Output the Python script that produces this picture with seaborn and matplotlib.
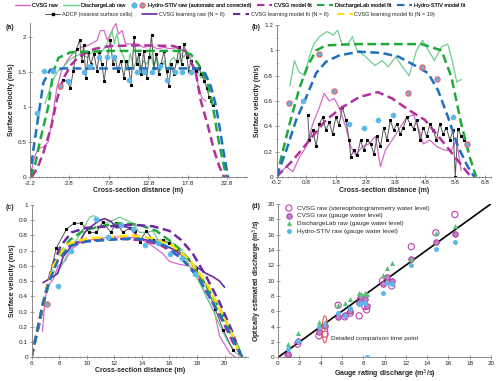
import numpy as np
import pandas as pd
import seaborn as sns
import matplotlib
matplotlib.use("Agg")
import matplotlib.pyplot as plt
from matplotlib.lines import Line2D
from matplotlib.patches import Ellipse
from matplotlib.legend_handler import HandlerTuple
from matplotlib.ticker import MultipleLocator

sns.set_style("ticks")
plt.rcParams['font.family'] = ['Liberation Sans', 'DejaVu Sans']

# ---------------- panel (a) ----------------
a_cvsg_x = [-2.2, -1.6, -1.1, -0.5, 0.1, 0.5, 1.2, 1.8, 2.5, 3.3, 4.2, 5.2, 6.3, 6.7, 7.2, 7.6, 8.0, 8.4, 8.7,
            9.0, 9.5, 9.9, 10.5, 11.4, 12.2, 13.1, 13.9, 14.8, 15.6, 16.5, 17.3, 17.9, 18.4, 18.8, 19.2, 19.6, 20.1]
a_cvsg_y = [0.0, 0.30, 0.41, 0.43, 0.50, 0.75, 1.27, 1.52, 1.66, 1.78, 1.85, 1.88, 1.95, 2.09, 2.09, 1.95, 2.04, 2.14, 2.19,
            2.04, 2.09, 1.90, 1.90, 1.90, 1.85, 1.88, 1.83, 1.85, 1.83, 1.85, 1.80, 1.76, 1.61, 1.47, 1.27, 1.13, 1.08]
a_dlab_x = [-0.3, 0.1, 0.6, 1.0, 1.4, 2.0, 2.7, 3.3, 4.2, 5.0, 5.9, 6.7, 7.3, 7.8, 8.2, 8.5, 8.8, 9.3, 9.7, 10.1,
            10.5, 11.0, 11.4, 11.8, 12.2, 12.6, 13.1, 13.5, 13.9, 14.3, 14.8, 15.2, 15.6, 16.0, 16.5, 16.9, 17.3,
            17.7, 18.2, 18.6, 19.0, 19.4, 19.9]
a_dlab_y = [1.05, 1.18, 1.37, 1.44, 1.52, 1.56, 1.66, 1.71, 1.76, 1.71, 1.80, 1.76, 1.85, 1.95, 2.09, 1.90, 2.04, 1.80,
            1.71, 1.52, 1.76, 1.56, 1.71, 1.52, 1.66, 1.61, 1.76, 1.56, 1.71, 1.52, 1.66, 1.47, 1.66, 1.71, 1.61,
            1.76, 1.71, 1.80, 1.66, 1.56, 1.52, 1.42, 1.42]
a_adcp_x = [2.0, 2.5, 2.9, 3.3, 3.7, 4.1, 4.4, 4.6, 4.9, 5.2, 5.5, 5.9, 6.3, 6.6, 6.9, 7.2, 7.6, 8.0, 8.3, 8.6, 8.9,
            9.3, 9.7, 10.0, 10.3, 10.6, 11.0, 11.3, 11.6, 11.9, 12.2, 12.6, 12.9, 13.2, 13.5, 13.8, 14.1, 14.4,
            14.8, 15.1, 15.4, 15.7, 16.0, 16.4, 16.7, 17.0, 17.3, 17.7, 17.9, 18.2, 18.6, 18.9, 19.2, 19.5, 19.9,
            20.2, 20.5, 20.8, 21.0]
a_adcp_y = [1.39, 1.37, 1.27, 1.52, 1.83, 1.95, 1.66, 1.88, 1.42, 1.78, 1.61, 1.76, 1.52, 1.78, 1.61, 1.37, 1.71,
            1.95, 1.61, 1.71, 1.52, 1.66, 1.42, 1.66, 1.56, 1.32, 2.00, 1.61, 1.76, 1.47, 1.80, 1.42, 1.71, 2.02,
            1.56, 1.76, 1.47, 1.61, 1.80, 1.52, 1.30, 1.61, 1.47, 1.66, 1.85, 1.61, 1.90, 1.71, 1.52, 1.66, 1.56,
            1.52, 1.56, 1.47, 1.37, 1.27, 1.15, 1.08, 1.03]
a_stiv_x = [-1.35, -0.38, 0.77, 2.67, 4.58, 5.43, 6.49, 7.56, 8.4, 10.3, 11.4, 12.2, 13.3, 14.3, 15.2, 16.2, 17.1, 18.2]
a_stiv_y = [0.92, 1.51, 1.51, 1.37, 1.50, 1.59, 1.71, 1.71, 1.71, 1.39, 1.50, 1.50, 1.50, 1.59, 1.38, 1.50, 1.50, 1.50]
a_stivc_x = [1.62]
a_stivc_y = [1.30]
a_fcvsg_x = [-2.0, -1.3, -0.5, 0.5, 1.2, 2.0, 3.0, 4.0, 6.0, 8.0, 12.0, 16.0, 17.5, 18.8, 19.4, 20.3, 21.1, 21.8, 22.4]
a_fcvsg_y = [0.0, 0.12, 0.35, 0.72, 1.10, 1.40, 1.60, 1.72, 1.83, 1.87, 1.88, 1.87, 1.80, 1.50, 1.11, 0.75, 0.39, 0.15, 0.0]
a_fdlab_x = [-2.2, -1.6, -0.9, 0.1, 0.75, 1.4, 2.9, 8.0, 14.0, 16.9, 18.2, 19.2, 20.3, 21.0, 21.6, 22.2, 22.7]
a_fdlab_y = [0.0, 0.15, 0.53, 1.00, 1.50, 1.70, 1.78, 1.80, 1.80, 1.80, 1.75, 1.60, 1.35, 1.00, 0.58, 0.25, 0.0]
a_fstiv_x = [-2.2, -1.78, -1.14, -0.5, 0.35, 2.0, 10.0, 19.0, 20.0, 20.7, 21.3, 21.8, 22.3, 22.9]
a_fstiv_y = [0.0, 0.39, 0.87, 1.35, 1.53, 1.55, 1.55, 1.55, 1.48, 1.30, 1.05, 0.73, 0.38, 0.0]

# ---------------- panel (b) ----------------
b_cvsg_x = [-0.2, 0.13, 0.35, 0.58, 0.8, 1.02, 1.24, 1.4, 1.57, 1.74, 1.9, 2.13, 2.29, 2.46, 2.68, 2.9, 3.12, 3.29,
            3.45, 3.68, 3.95, 4.17, 4.4, 4.56, 4.73, 4.95, 5.17, 5.45, 5.67, 5.84, 6.0]
b_cvsg_y = [0.0, 0.08, 0.04, 0.16, 0.24, 0.42, 0.55, 0.66, 0.60, 0.62, 0.55, 0.39, 0.24, 0.17, 0.24, 0.26, 0.32, 0.08,
            0.21, 0.29, 0.39, 0.47, 0.49, 0.39, 0.26, 0.29, 0.24, 0.21, 0.21, 0.29, 0.05]
b_dlab_x = [0.25, 0.4, 0.55, 0.75, 0.9, 1.05, 1.25, 1.5, 1.7, 1.85, 2.0, 2.2, 2.35, 2.5, 2.75, 3.1, 3.35, 3.55, 3.8,
            4.0, 4.25, 4.5, 4.7, 4.9, 5.1, 5.35, 5.55, 5.7, 5.85, 6.0]
b_dlab_y = [0.72, 0.92, 0.83, 0.80, 0.95, 1.05, 1.11, 1.15, 1.12, 1.16, 1.05, 1.05, 1.11, 1.00, 0.96, 0.88, 0.92, 0.87,
            0.95, 0.88, 0.80, 1.00, 1.08, 1.00, 0.92, 1.03, 1.05, 0.92, 0.75, 0.77]
b_adcp_x = [0.85, 0.9, 1.02, 1.13, 1.24, 1.35, 1.46, 1.57, 1.68, 1.79, 1.9, 2.01, 2.13, 2.24, 2.29, 2.4, 2.51, 2.62,
            2.73, 2.85, 2.96, 3.07, 3.18, 3.29, 3.4, 3.51, 3.62, 3.73, 3.84, 3.95, 4.06, 4.17, 4.29, 4.4, 4.5, 4.62,
            4.73, 4.84, 4.95, 5.06, 5.17, 5.28, 5.39, 5.5, 5.62, 5.73, 5.8, 5.89, 6.0, 6.11, 6.22]
b_adcp_y = [0.49, 0.29, 0.37, 0.24, 0.42, 0.47, 0.37, 0.43, 0.34, 0.47, 0.41, 0.55, 0.45, 0.29, 0.16, 0.21, 0.17,
            0.29, 0.21, 0.29, 0.26, 0.18, 0.32, 0.24, 0.39, 0.29, 0.45, 0.37, 0.42, 0.34, 0.39, 0.47, 0.42, 0.38,
            0.45, 0.29, 0.39, 0.32, 0.42, 0.37, 0.29, 0.42, 0.34, 0.39, 0.29, 0.37, 0.0, 0.38, 0.32, 0.29, 0.26]
b_stiv_x = [0.69, 2.24, 2.73, 3.21, 3.70, 5.72]
b_stiv_y = [0.60, 0.42, 0.39, 0.45, 0.49, 0.47]
b_stivc_x = [0.22, 1.22, 1.72, 4.20, 4.70, 5.19, 6.19]
b_stivc_y = [0.58, 0.97, 0.68, 0.66, 0.87, 0.77, 0.26]
b_fcvsg_x = [-0.2, 0.35, 0.91, 1.46, 2.01, 2.57, 3.2, 3.68, 4.23, 4.78, 5.34, 5.78, 6.22, 6.35]
b_fcvsg_y = [0.0, 0.13, 0.29, 0.45, 0.55, 0.63, 0.67, 0.62, 0.53, 0.45, 0.29, 0.16, 0.03, 0.0]
b_fdlab_x = [-0.2, 0.24, 0.58, 0.85, 1.13, 1.46, 2.5, 3.5, 4.67, 5.34, 5.67, 6.0, 6.28, 6.5]
b_fdlab_y = [0.0, 0.42, 0.71, 0.88, 1.00, 1.04, 1.05, 1.05, 1.05, 1.00, 0.79, 0.42, 0.16, 0.0]
b_fstiv_x = [-0.2, 0.13, 0.46, 0.8, 1.13, 1.46, 1.9, 2.57, 3.34, 3.9, 4.45, 4.89, 5.23, 5.56, 5.89, 6.22, 6.44]
b_fstiv_y = [0.0, 0.21, 0.45, 0.63, 0.82, 0.91, 0.96, 0.99, 0.98, 0.95, 0.88, 0.82, 0.68, 0.47, 0.24, 0.08, 0.0]

# ---------------- panel (c) ----------------
c_cvsg_x = [6.8, 6.97, 7.2, 7.57, 7.93, 8.41, 8.9, 9.5, 10.2, 10.95, 11.9, 12.88, 13.84, 14.45, 14.93, 15.53, 16.0,
            16.74, 17.46, 17.95, 18.3, 18.67, 18.96, 19.27, 19.64, 20.36, 20.8, 21.4]
c_cvsg_y = [0.17, 0.38, 0.47, 0.51, 0.60, 0.63, 0.71, 0.75, 0.77, 0.78, 0.79, 0.79, 0.78, 0.75, 0.72, 0.68, 0.63, 0.61,
            0.60, 0.55, 0.49, 0.40, 0.35, 0.30, 0.14, 0.03, 0.0, 0.0]
c_dlab_x = [7.45, 7.81, 8.17, 8.53, 9.26, 9.74, 10.22, 10.54, 10.95, 11.43, 11.91, 12.4, 12.88, 13.36, 13.84, 14.33,
            14.81, 15.3, 15.77, 16.26, 16.86, 17.46, 17.95, 18.4, 19.0, 19.6, 20.2, 20.8, 21.3]
c_dlab_y = [0.58, 0.55, 0.60, 0.66, 0.77, 0.84, 0.92, 0.93, 0.90, 0.88, 0.90, 0.92, 0.90, 0.88, 0.82, 0.82, 0.83, 0.75,
            0.75, 0.75, 0.71, 0.60, 0.53, 0.45, 0.34, 0.22, 0.11, 0.03, 0.0]
c_adcp_x = [7.33, 7.81, 8.53, 9.07, 9.62, 10.18, 10.7, 11.19, 11.74, 12.15, 12.64, 13.12, 13.48, 13.84, 14.33, 14.81,
            15.53, 16.0, 16.5, 17.2, 17.9, 18.7, 19.3, 19.9, 20.6]
c_adcp_y = [0.54, 0.72, 0.84, 0.88, 0.88, 0.82, 0.82, 0.89, 0.82, 0.88, 0.82, 0.85, 0.83, 0.76, 0.83, 0.77, 0.77, 0.75,
            0.71, 0.66, 0.58, 0.47, 0.32, 0.18, 0.05]
c_lraw_x = [6.84, 7.2, 7.57, 7.9, 8.29, 8.65, 9.02, 9.5, 9.86, 10.34, 10.95, 11.3, 11.79, 12.15, 12.64, 13.12, 13.84,
            14.33, 14.81, 15.3, 15.77, 16.26, 16.74, 17.22, 17.7, 18.19, 18.67, 19.15, 19.64, 20.0]
c_lraw_y = [0.49, 0.51, 0.53, 0.55, 0.66, 0.70, 0.75, 0.76, 0.82, 0.86, 0.90, 0.91, 0.89, 0.85, 0.86, 0.85, 0.78, 0.77,
            0.76, 0.74, 0.73, 0.71, 0.68, 0.66, 0.61, 0.58, 0.55, 0.53, 0.50, 0.46]
c_stiv_x = [7.93, 8.9, 10.66, 11.55, 12.52, 13.36, 14.25, 15.17, 16.07, 16.93, 17.88]
c_stiv_y = [0.47, 0.70, 0.91, 0.79, 0.87, 0.84, 0.74, 0.75, 0.68, 0.65, 0.55]
c_stivc_x = [7.09]
c_stivc_y = [0.35]
c_fcvsg_x = [6.0, 6.6, 7.09, 7.57, 8.29, 9.26, 10.47, 12.15, 13.84, 15.3, 16.74, 17.95, 18.9, 19.9, 20.6, 21.3]
c_fcvsg_y = [0.0, 0.23, 0.45, 0.60, 0.71, 0.75, 0.77, 0.78, 0.77, 0.74, 0.66, 0.55, 0.40, 0.23, 0.10, 0.0]
c_fdlab_x = [6.0, 6.84, 7.45, 8.05, 8.78, 9.74, 10.95, 12.4, 13.84, 15.05, 16.26, 17.46, 18.67, 19.64, 20.6, 21.3]
c_fdlab_y = [0.0, 0.34, 0.55, 0.68, 0.77, 0.83, 0.86, 0.88, 0.87, 0.83, 0.75, 0.64, 0.47, 0.32, 0.14, 0.0]
c_fstiv_x = [6.0, 6.84, 7.33, 7.93, 8.78, 9.98, 11.43, 13.36, 14.57, 15.77, 16.98, 18.19, 19.15, 20.1, 20.84, 21.3]
c_fstiv_y = [0.0, 0.36, 0.51, 0.64, 0.73, 0.76, 0.77, 0.78, 0.77, 0.73, 0.64, 0.51, 0.36, 0.21, 0.08, 0.0]
c_fl8_x = [6.0, 6.84, 7.45, 8.1, 8.9, 9.98, 11.67, 13.36, 14.81, 16.0, 16.86, 17.7, 18.67, 19.64, 20.6, 21.2]
c_fl8_y = [0.0, 0.36, 0.58, 0.73, 0.82, 0.85, 0.86, 0.87, 0.86, 0.83, 0.77, 0.68, 0.53, 0.36, 0.16, 0.0]
c_fl19_x = [6.0, 6.84, 7.57, 8.53, 9.98, 11.67, 13.36, 14.81, 16.26, 17.46, 18.67, 19.64, 20.6, 21.2]
c_fl19_y = [0.0, 0.36, 0.60, 0.74, 0.78, 0.79, 0.80, 0.78, 0.73, 0.64, 0.49, 0.32, 0.14, 0.0]

# ---------------- panel (d) ----------------
d_gauge = [0.94, 1.85, 3.84, 4.42, 5.65, 6.28, 6.78, 7.62, 7.76, 8.16, 8.32, 9.82, 10.2, 10.68, 12.52, 14.82, 16.61]
d_cvsg_stereo = [0.2, 1.73, 2.81, 3.03, 6.80, 5.28, 5.76, 5.41, 7.60, 6.62, 6.19, 9.96, 9.91, 9.31, 14.42, 16.23, 18.61]
d_cvsg_gauge = [0.43, 2.16, 3.25, 4.11, 5.28, 5.50, 6.06, 7.06, 7.80, 7.58, 6.71, 9.52, 10.52, 9.96, 12.77, 15.02, 16.10]
d_dlab_gauge = [1.73, 3.12, 4.55, 4.55, 6.80, 7.14, 7.58, 8.35, 8.30, 8.35, 8.20, 10.69, 11.65, 12.25, 12.77, 16.23, 17.10]
d_stiv_gauge = [1.08, 2.16, 3.90, 4.33, 5.84, 5.41, 6.49, 6.93, 7.10, 7.14, 0.0, 8.44, 9.74, 9.52, 11.99, 14.07, 15.02]

PINK = '#D46BC9'
LGREEN = '#6FCF8E'
LBLUE = '#5DB8EA'
REDEDGE = '#F06464'
MAG = '#B0309C'
GREEN = '#1FAA3A'
BLUE = '#1F6FC0'
PURPLE = '#6A2AA0'
YELLOW = '#FFE400'
DASH = (0, (3.5, 1.8))


def raw(ax, x, y, color, lw=0.9):
    sns.lineplot(x=x, y=y, ax=ax, color=color, lw=lw, sort=False, estimator=None)


def fit(ax, x, y, color, lw=1.8):
    sns.lineplot(x=x, y=y, ax=ax, color=color, lw=lw, linestyle=DASH, sort=False, estimator=None)


def adcp(ax, x, y):
    sns.lineplot(x=x, y=y, ax=ax, color='#555555', lw=0.7, marker='s', markersize=1.8,
                 markerfacecolor='black', markeredgecolor='black', sort=False, estimator=None)


def stiv(ax, x, y, xc, yc):
    sns.scatterplot(x=x, y=y, ax=ax, color=LBLUE, s=14, edgecolor=LBLUE, linewidth=0.3, zorder=5)
    sns.scatterplot(x=xc, y=yc, ax=ax, color=LBLUE, s=14, edgecolor=REDEDGE, linewidth=0.9, zorder=5)


def style(ax, xlabel, ylabel):
    for s in ['top', 'right']:
        ax.spines[s].set_visible(False)
    for s in ['left', 'bottom']:
        ax.spines[s].set_color('#888888')
        ax.spines[s].set_linewidth(0.7)
    ax.tick_params(which='major', labelsize=4.6, length=3, width=0.6, color='#888888', direction='inout', pad=1)
    ax.tick_params(which='minor', length=1.6, width=0.5, color='#888888', direction='inout')
    ax.set_xlabel(xlabel, fontsize=5, fontweight='bold', labelpad=1)
    ax.set_ylabel(ylabel, fontsize=5, fontweight='bold', labelpad=2)


fig = plt.figure(figsize=(5.0, 3.81), dpi=100)
ax_a = fig.add_axes([0.060, 0.535, 0.434, 0.405])
ax_b = fig.add_axes([0.553, 0.536, 0.429, 0.398])
ax_c = fig.add_axes([0.063, 0.062, 0.433, 0.400])
ax_d = fig.add_axes([0.556, 0.062, 0.426, 0.403])

# (a)
raw(ax_a, a_cvsg_x, a_cvsg_y, PINK)
raw(ax_a, a_dlab_x, a_dlab_y, LGREEN)
adcp(ax_a, a_adcp_x, a_adcp_y)
fit(ax_a, a_fcvsg_x, a_fcvsg_y, MAG)
fit(ax_a, a_fdlab_x, a_fdlab_y, GREEN)
fit(ax_a, a_fstiv_x, a_fstiv_y, BLUE)
stiv(ax_a, a_stiv_x, a_stiv_y, a_stivc_x, a_stivc_y)
ax_a.set_xlim(-2.2, 25.3)
ax_a.set_ylim(0, 2.2)
ax_a.set_xticks([-2.2, 2.8, 7.8, 12.8, 17.8, 22.8])
ax_a.set_xticklabels(['-2.2', '2.8', '7.8', '12.8', '17.8', '22.8'])
ax_a.set_yticks([0, 0.5, 1, 1.5, 2])
ax_a.set_yticklabels(['0', '0.5', '1', '1.5', '2'])
ax_a.xaxis.set_minor_locator(MultipleLocator(1))
style(ax_a, 'Cross-section distance (m)', 'Surface velocity (m/s)')

# (b)
raw(ax_b, b_cvsg_x, b_cvsg_y, PINK)
raw(ax_b, b_dlab_x, b_dlab_y, LGREEN)
adcp(ax_b, b_adcp_x, b_adcp_y)
fit(ax_b, b_fcvsg_x, b_fcvsg_y, MAG)
fit(ax_b, b_fdlab_x, b_fdlab_y, GREEN)
fit(ax_b, b_fstiv_x, b_fstiv_y, BLUE)
stiv(ax_b, b_stiv_x, b_stiv_y, b_stivc_x, b_stivc_y)
ax_b.set_xlim(-0.2, 7.0)
ax_b.set_ylim(0, 1.2)
ax_b.set_xticks([-0.2, 0.8, 1.8, 2.8, 3.8, 4.8, 5.8, 6.8])
ax_b.set_xticklabels(['-0.2', '0.8', '1.8', '2.8', '3.8', '4.8', '5.8', '6.8'])
ax_b.set_yticks([0, 0.2, 0.4, 0.6, 0.8, 1.0, 1.2])
ax_b.set_yticklabels(['0', '0.2', '0.4', '0.6', '0.8', '1', '1.2'])
ax_b.xaxis.set_minor_locator(MultipleLocator(0.2))
ax_b.yaxis.set_minor_locator(MultipleLocator(0.1))
style(ax_b, 'Cross-section distance (m)', 'Surface velocity (m/s)')

# (c)
raw(ax_c, c_cvsg_x, c_cvsg_y, PINK)
raw(ax_c, c_dlab_x, c_dlab_y, LGREEN)
adcp(ax_c, c_adcp_x, c_adcp_y)
raw(ax_c, c_lraw_x, c_lraw_y, PURPLE, lw=1.2)
fit(ax_c, c_fcvsg_x, c_fcvsg_y, MAG)
fit(ax_c, c_fdlab_x, c_fdlab_y, GREEN)
fit(ax_c, c_fl8_x, c_fl8_y, PURPLE)
fit(ax_c, c_fl19_x, c_fl19_y, YELLOW)
fit(ax_c, c_fstiv_x, c_fstiv_y, BLUE)
stiv(ax_c, c_stiv_x, c_stiv_y, c_stivc_x, c_stivc_y)
ax_c.set_xlim(6, 21.7)
ax_c.set_ylim(0, 1)
ax_c.set_xticks(range(6, 21, 2))
ax_c.set_yticks([0, 0.1, 0.2, 0.3, 0.4, 0.5, 0.6, 0.7, 0.8, 0.9, 1])
ax_c.set_yticklabels(['0', '0.1', '0.2', '0.3', '0.4', '0.5', '0.6', '0.7', '0.8', '0.9', '1'])
ax_c.xaxis.set_minor_locator(MultipleLocator(0.5))
style(ax_c, 'Cross-section distance (m)', 'Surface velocity (m/s)')

# (d)
sns.lineplot(x=[0, 20], y=[0, 20], ax=ax_d, color='black', lw=1.2)
sns.scatterplot(x=d_gauge, y=d_cvsg_stereo, ax=ax_d, facecolor='none', edgecolor='#C23FB5', s=20, linewidth=0.8,
                label='CVSG raw (stereophotogrammetry water level)', zorder=4)
sns.scatterplot(x=d_gauge, y=d_cvsg_gauge, ax=ax_d, color='#C27FCB', edgecolor='#A23496', s=16, linewidth=0.6,
                label='CVSG raw (gauge water level)', zorder=4)
sns.scatterplot(x=d_gauge, y=d_dlab_gauge, ax=ax_d, color='#5CC07B', marker='^', s=14, linewidth=0,
                label='DischargeLab raw (gauge water level)', zorder=4)
sns.scatterplot(x=d_gauge, y=d_stiv_gauge, ax=ax_d, color=LBLUE, s=13, linewidth=0,
                label='Hydro-STIV raw (gauge water level)', zorder=4)
ax_d.add_patch(Ellipse((4.4, 3.65), 0.5, 3.5, fill=False, ec='#E85555', lw=0.8, zorder=6))
ax_d.text(5.0, 2.4, 'Detailed comparison time point', fontsize=4.6, va='center')
ax_d.set_xlim(0, 20)
ax_d.set_ylim(0, 20)
ax_d.set_xticks(range(0, 21, 2))
ax_d.set_yticks(range(0, 21, 2))
ax_d.legend(loc='upper left', bbox_to_anchor=(0.0, 1.02), fontsize=4.6, frameon=False, handletextpad=0.2,
            labelspacing=0.35, borderaxespad=0.3)
style(ax_d, 'Gauge rating discharge (m$^3$/s)', 'Optically estimated discharge (m$^3$/s)')

for lab, pos in [('(a)', (0.012, 0.928)), ('(b)', (0.503, 0.928)),
                 ('(c)', (0.012, 0.455)), ('(d)', (0.503, 0.458))]:
    fig.text(pos[0], pos[1], lab, fontsize=5, fontweight='bold', va='center')

# top legend
h_cvsg = Line2D([], [], color=PINK, lw=0.9)
h_dlab = Line2D([], [], color=LGREEN, lw=0.9)
h_s1 = Line2D([], [], ls='none', marker='o', ms=3.2, mfc=LBLUE, mec=LBLUE)
h_s2 = Line2D([], [], ls='none', marker='o', ms=3.2, mfc=LBLUE, mec=REDEDGE, mew=0.9)
h_fc = Line2D([], [], color=MAG, lw=1.5, ls=(0, (3.5, 2.5)))
h_fd = Line2D([], [], color=GREEN, lw=1.5, ls=(0, (3.5, 2.5)))
h_fs = Line2D([], [], color=BLUE, lw=1.5, ls=(0, (3.5, 2.5)))
h_adcp = Line2D([], [], color='#555555', lw=0.7, marker='s', ms=1.8, mfc='black', mec='black')
h_lraw = Line2D([], [], color=PURPLE, lw=1.2)
h_l8 = Line2D([], [], color=PURPLE, lw=1.5, ls=(0, (3.5, 2.5)))
h_l19 = Line2D([], [], color=YELLOW, lw=1.5, ls=(0, (3.5, 2.5)))

leg1 = fig.legend([h_cvsg, h_dlab, (h_s1, h_s2), h_fc, h_fd, h_fs],
                  ['CVSG raw', 'DischargeLab raw', 'Hydro-STIV raw (automatic and corrected)',
                   'CVSG model fit', 'DischargeLab model fit', 'Hydro-STIV model fit'],
                  loc='center', bbox_to_anchor=(0.48, 0.986), ncol=6, fontsize=4, frameon=False,
                  handlelength=2.8, handletextpad=0.3, columnspacing=1.0,
                  handler_map={tuple: HandlerTuple(ndivide=None, pad=0.1)})
fig.add_artist(leg1)
fig.legend([h_adcp, h_lraw, h_l8, h_l19],
           ['ADCP (nearest surface cells)', 'CVSG learning raw (N = 8)',
            'CVSG learning model fit (N = 8)', 'CVSG learning model fit (N = 19)'],
           loc='center', bbox_to_anchor=(0.48, 0.961), ncol=4, fontsize=4, frameon=False,
           handlelength=2.8, handletextpad=0.3, columnspacing=1.6)

fig.savefig('out.png', dpi=100)
